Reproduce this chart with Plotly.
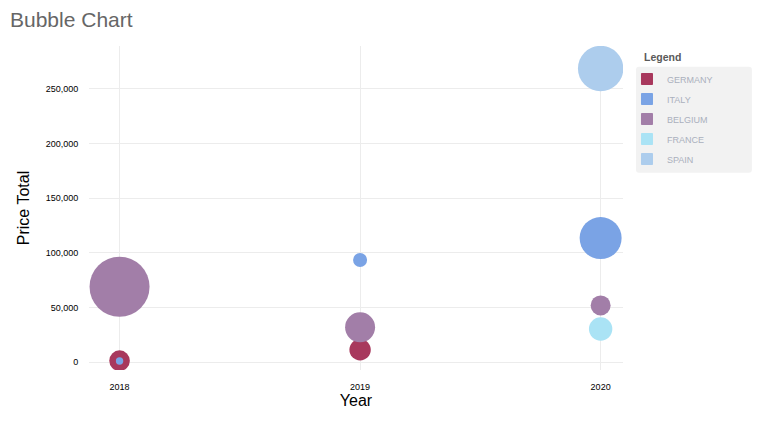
import plotly.graph_objects as go

# ---- data ----
countries = ["GERMANY", "ITALY", "BELGIUM", "FRANCE", "SPAIN"]
colors = ["#a8385d", "#7aa3e5", "#a27ea8", "#aae3f5", "#adcded"]

germany_years = [2018, 2019]
germany_price = [1500, 11500]
germany_r = [10.3, 10.7]

italy_years = [2018, 2019, 2020]
italy_price = [1200, 93500, 113500]
italy_r = [3.7, 7.0, 21.0]

belgium_years = [2018, 2019, 2020]
belgium_price = [69000, 32000, 52000]
belgium_r = [30.0, 15.0, 10.0]

france_years = [2020]
france_price = [30500]
france_r = [11.7]

spain_years = [2020]
spain_price = [268500]
spain_r = [22.7]

series = [
    (germany_years, germany_price, germany_r),
    (italy_years, italy_price, italy_r),
    (belgium_years, belgium_price, belgium_r),
    (france_years, france_price, france_r),
    (spain_years, spain_price, spain_r),
]

year_ticks = [2018, 2019, 2020]
price_ticks = [0, 50000, 100000, 150000, 200000, 250000]

FONT = "Liberation Sans, Arial, sans-serif"

# plot-area geometry (pixels)
W, H = 761, 421
L, R, T, B = 88.5, 623, 46, 370

def px_x(px):
    return (px - L) / (R - L)

def px_y(py):
    return (B - py) / (B - T)

fig = go.Figure()

for name, color, (xs, ys, rs) in zip(countries, colors, series):
    fig.add_trace(go.Scatter(
        x=xs, y=ys, mode="markers", name=name, legendgroup=name,
        showlegend=False,
        marker=dict(size=rs, sizemode="diameter", sizeref=0.5,
                    color=color, opacity=1, line=dict(width=0)),
        hovertemplate=name + "<br>%{x}: %{y:,}<extra></extra>",
    ))

for name, color in zip(countries, colors):
    fig.add_trace(go.Scatter(
        x=[None], y=[None], mode="markers", name=name, legendgroup=name,
        showlegend=True,
        marker=dict(size=11, symbol="square", color=color,
                    line=dict(width=1, color=color)),
    ))

# legend background (rounded)
x0, x1 = px_x(636), px_x(752)
y0, y1 = px_y(172.7), px_y(66.7)
rx, ry = 3 / (R - L), 3 / (B - T)
path = (f"M {x0+rx},{y1} L {x1-rx},{y1} Q {x1},{y1} {x1},{y1-ry} "
        f"L {x1},{y0+ry} Q {x1},{y0} {x1-rx},{y0} L {x0+rx},{y0} "
        f"Q {x0},{y0} {x0},{y0+ry} L {x0},{y1-ry} Q {x0},{y1} {x0+rx},{y1} Z")

fig.update_layout(
    width=W, height=H,
    margin=dict(l=L, r=W - R, t=T, b=H - B, pad=0),
    paper_bgcolor="white", plot_bgcolor="white",
    font=dict(family=FONT, color="#000"),
    title=dict(text="Bubble Chart", x=10 / W, xref="container", xanchor="left",
               y=1 - 20 / H, yref="container", yanchor="middle",
               font=dict(size=21, color="#666666", family=FONT)),
    shapes=[dict(type="path", path=path, xref="paper", yref="paper",
                 fillcolor="#f2f2f2", line=dict(width=0), layer="below")],
    annotations=[dict(text="<b>Legend</b>", xref="paper", yref="paper",
                      x=px_x(642), y=px_y(57), xanchor="left", yanchor="middle",
                      showarrow=False,
                      font=dict(size=10.5, color="#5a5a5a", family=FONT))],
    legend=dict(
        x=px_x(627), y=px_y(64.5), xanchor="left", yanchor="top",
        bgcolor="rgba(0,0,0,0)", borderwidth=0,
        font=dict(size=9, color="#aab0bd", family=FONT),
        tracegroupgap=1, traceorder="grouped",
    ),
    xaxis=dict(
        range=[2017.873, 2020.093], tickvals=year_ticks,
        ticktext=[str(v) for v in year_ticks],
        showgrid=True, gridcolor="#ececec", gridwidth=1,
        zeroline=False, showline=False, automargin=False,
        ticks="outside", ticklen=8, tickcolor="rgba(0,0,0,0)",
        tickfont=dict(size=9, color="#000"),
        title=dict(text="Year", standoff=4, font=dict(size=16, color="#000")),
    ),
    yaxis=dict(
        range=[-7040, 289100], tickvals=price_ticks, tickformat=",",
        showgrid=True, gridcolor="#ececec", gridwidth=1,
        zeroline=False, showline=False, automargin=False,
        ticks="outside", ticklen=8, tickcolor="rgba(0,0,0,0)",
        tickfont=dict(size=9, color="#000"),
        title=dict(text="Price Total", standoff=12, font=dict(size=16, color="#000")),
    ),
)

fig.write_html("out.html")
